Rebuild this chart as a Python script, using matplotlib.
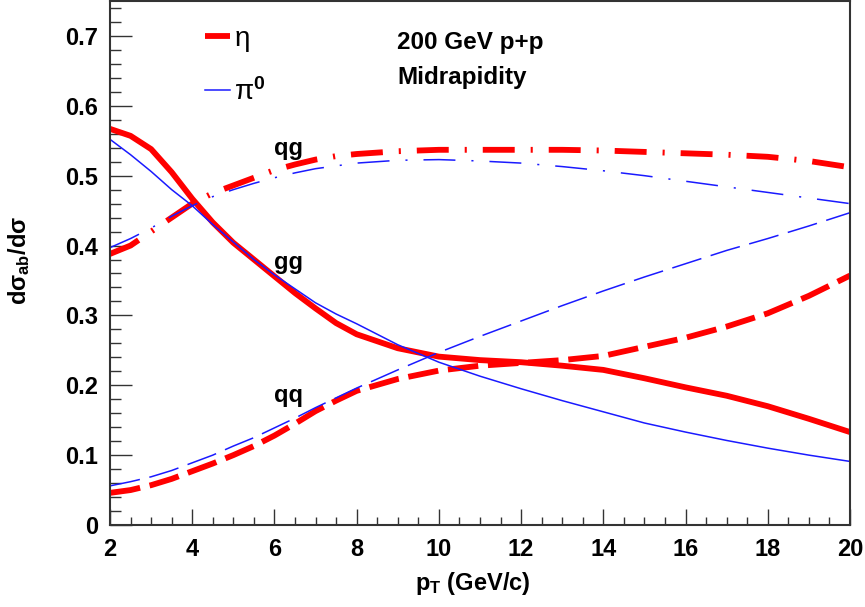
import matplotlib
matplotlib.use("Agg")
import matplotlib.pyplot as plt
from matplotlib.ticker import MultipleLocator, FuncFormatter

plt.rcParams['font.family'] = ['Liberation Sans', 'DejaVu Sans']
plt.rcParams['font.weight'] = 'bold'
plt.rcParams['mathtext.fontset'] = 'custom'
plt.rcParams['mathtext.rm'] = 'Liberation Sans:bold'
plt.rcParams['mathtext.it'] = 'Liberation Sans:bold'
plt.rcParams['mathtext.bf'] = 'Liberation Sans:bold'
plt.rcParams['lines.scale_dashes'] = False

pt = [2, 2.5, 3, 3.5, 4, 4.5, 5, 5.5, 6, 6.5, 7, 7.5, 8, 9, 10, 11, 12, 13, 14, 15, 16, 17, 18, 19, 20]

eta_gg = [0.567, 0.557, 0.538, 0.505, 0.467, 0.433, 0.404, 0.380, 0.356, 0.332, 0.310, 0.289, 0.273,
          0.253, 0.241, 0.236, 0.233, 0.228, 0.222, 0.210, 0.197, 0.185, 0.170, 0.152, 0.133]
eta_qg = [0.388, 0.400, 0.420, 0.440, 0.460, 0.475, 0.486, 0.497, 0.508, 0.516, 0.523, 0.528, 0.531,
          0.535, 0.537, 0.537, 0.537, 0.537, 0.536, 0.534, 0.532, 0.530, 0.527, 0.521, 0.512]
eta_qq = [0.046, 0.050, 0.057, 0.066, 0.077, 0.088, 0.100, 0.113, 0.128, 0.145, 0.163, 0.178, 0.192,
          0.209, 0.221, 0.228, 0.232, 0.236, 0.242, 0.255, 0.268, 0.284, 0.303, 0.328, 0.357]

pi0_gg = [0.552, 0.530, 0.506, 0.480, 0.457, 0.430, 0.405, 0.380, 0.358, 0.338, 0.318, 0.302, 0.288,
          0.258, 0.233, 0.213, 0.195, 0.178, 0.162, 0.146, 0.133, 0.121, 0.110, 0.100, 0.091]
pi0_qg = [0.397, 0.410, 0.425, 0.442, 0.457, 0.470, 0.480, 0.489, 0.497, 0.504, 0.510, 0.514, 0.518,
          0.522, 0.523, 0.521, 0.518, 0.513, 0.507, 0.500, 0.492, 0.484, 0.476, 0.468, 0.460]
pi0_qq = [0.056, 0.062, 0.069, 0.078, 0.089, 0.100, 0.113, 0.125, 0.139, 0.153, 0.168, 0.182, 0.196,
          0.222, 0.247, 0.270, 0.292, 0.314, 0.335, 0.355, 0.374, 0.393, 0.410, 0.428, 0.447]

RED = '#ff0000'
BLUE = '#1a1aff'
LW_R = 4.2
LW_B = 1.1
DASH = (0, (22, 7))
DASHDOT = (0, (23, 11.5, 1.5, 11.5))

fig = plt.figure(figsize=(8.65, 6.07), dpi=100)
ax = fig.add_axes([110 / 865, 82 / 607, 740 / 865, 524 / 607])

h_eta, = ax.plot(pt, eta_gg, color=RED, lw=LW_R, solid_capstyle='butt', label='η')
ax.plot(pt, eta_qg, color=RED, lw=LW_R, linestyle=DASHDOT, dash_capstyle='butt')
ax.plot(pt, eta_qq, color=RED, lw=LW_R, linestyle=DASH, dash_capstyle='butt')

h_pi, = ax.plot(pt, pi0_gg, color=BLUE, lw=LW_B, label='π$^{0}$')
ax.plot(pt, pi0_qg, color=BLUE, lw=LW_B, linestyle=DASHDOT, dash_capstyle='butt')
ax.plot(pt, pi0_qq, color=BLUE, lw=LW_B, linestyle=DASH, dash_capstyle='butt')

ax.set_xlim(2, 20)
ax.set_ylim(0, 0.75)
ax.xaxis.set_major_locator(MultipleLocator(2))
ax.xaxis.set_minor_locator(MultipleLocator(0.5))
ax.yaxis.set_major_locator(MultipleLocator(0.1))
ax.yaxis.set_minor_locator(MultipleLocator(0.02))
ax.yaxis.set_major_formatter(FuncFormatter(lambda v, p: '0' if abs(v) < 1e-9 else f'{v:.1f}'))
ax.xaxis.set_major_formatter(FuncFormatter(lambda v, p: f'{v:.0f}'))

ax.tick_params(axis='both', which='both', direction='in', top=False, right=False, width=1.0, color='#333333')
ax.tick_params(axis='x', which='major', length=11.5, pad=9, labelsize=17)
ax.tick_params(axis='x', which='minor', length=5.8)
ax.tick_params(axis='y', which='major', length=16, pad=8.5, labelsize=17)
ax.tick_params(axis='y', which='minor', length=8)

for s in ax.spines.values():
    s.set_linewidth(1.5)
    s.set_color('#333333')

ax.set_xlabel(r'p$_{T}$ (GeV/c)', fontsize=17, fontweight='bold')
ax.xaxis.set_label_coords(0.49, -0.085)
ax.set_ylabel(r'd$\sigma_{ab}$/d$\sigma$', fontsize=17, fontweight='bold')
ax.yaxis.set_label_coords(-0.105, 0.505)

ax.text(6.0, 0.529, 'qg', fontsize=17, fontweight='bold')
ax.text(6.0, 0.366, 'gg', fontsize=17, fontweight='bold')
ax.text(6.0, 0.176, 'qq', fontsize=17, fontweight='bold')

ax.text(8.98, 0.681, '200 GeV p+p', fontsize=17.5, fontweight='bold')
ax.text(8.98, 0.631, 'Midrapidity', fontsize=17.5, fontweight='bold')

leg = ax.legend(handles=[h_eta, h_pi], loc='upper left', bbox_to_anchor=(205 / 865, 1 - 26 / 607),
                bbox_transform=fig.transFigure, frameon=False,
                prop={'size': 20, 'weight': 'normal', 'family': ['Liberation Sans', 'DejaVu Sans']},
                handlelength=0.9, handletextpad=0.15, labelspacing=0.95, borderpad=0, borderaxespad=0)

fig.savefig('out.png', dpi=100)
